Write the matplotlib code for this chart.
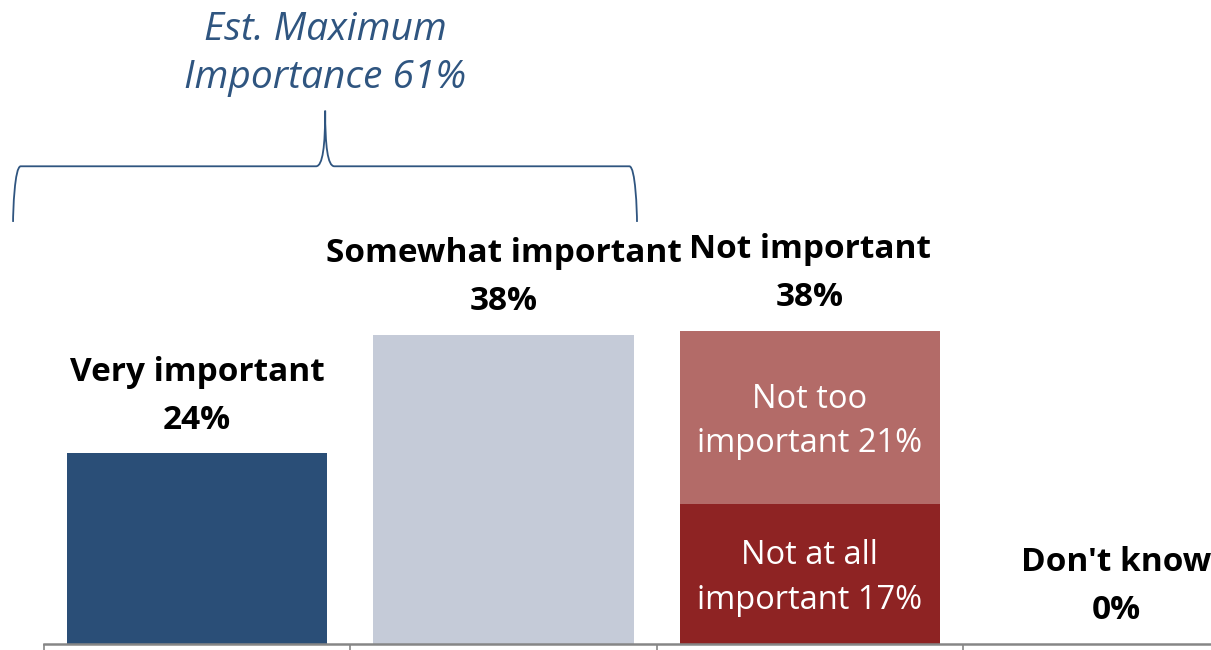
import numpy as np
import matplotlib.pyplot as plt
from matplotlib.path import Path
from matplotlib.patches import PathPatch

# Dữ liệu
categories = ["Very important", "Somewhat important", "Not important", "Don't know"]
totals = [23.3, 37.8, 38.3, 0.0]
total_labels = ["24%", "38%", "38%", "0%"]
bar_colors = ["#2A4E77", "#C5CBD8", None, "#FFFFFF"]

not_at_all = 17.1
not_too = 21.2
not_at_all_label = "Not at all\nimportant 17%"
not_too_label = "Not too\nimportant 21%"
est_label = "Est. Maximum\nImportance 61%"

FONT = "Open Sans"
plt.rcParams["font.family"] = [FONT, "DejaVu Sans"]

fig = plt.figure(figsize=(12.11, 6.5), dpi=100)
W, H = 1211, 650
ax = fig.add_axes([44 / W, 6 / H, (W - 44) / W, 644 / H])

x = np.arange(len(categories))
width = 0.85

# Cột đơn
for i in [0, 1, 3]:
    ax.bar(x[i], totals[i], width=width, color=bar_colors[i], zorder=2)

# Cột xếp chồng "Not important"
ax.bar(x[2], not_at_all, width=width, color="#8E2323", zorder=2)
ax.bar(x[2], not_too, bottom=not_at_all, width=width, color="#B36B68", zorder=2)

for yc, lab in [(not_at_all / 2, not_at_all_label),
                (not_at_all + not_too / 2, not_too_label)]:
    ax.annotate(lab, (x[2], yc), xytext=(0, -3), textcoords="offset points",
                ha="center", va="center", color="white", fontsize=23.5,
                linespacing=1.46)

# Nhãn phía trên cột
for i in range(len(categories)):
    ax.annotate(categories[i] + "\n" + total_labels[i], (x[i], totals[i]),
                xytext=(0, 12), textcoords="offset points", ha="center",
                va="bottom", fontsize=24, fontweight="bold", linespacing=1.6)

ax.set_xlim(-0.5, -0.5 + (W - 44) / 306.3)
ax.set_ylim(0, 644 / 8.18)

# Trục
for s in ["top", "right", "left"]:
    ax.spines[s].set_visible(False)
ax.spines["bottom"].set_color("#868686")
ax.spines["bottom"].set_linewidth(1.8)
ax.set_yticks([])
ax.set_xticks(x[:-1] + 0.5, minor=False)
ax.set_xticks([-0.5], minor=True)
ax.tick_params(axis="x", which="both", direction="out", length=5, width=1.2,
               color="#868686", labelbottom=False)

# Dấu ngoặc nhọn
bc = "#2F5580"
xl, xr, xm = -0.601, 1.436, 0.418
yb, yh, yt = 51.6, 58.4, 65.2
verts = [
    (xl, yb), (xl, yh - 5.5), (xl + 0.005, yh), (xl + 0.025, yh),
    (xm - 0.03, yh),
    (xm - 0.008, yh), (xm, yh + 2.5), (xm, yt),
    (xm, yh + 2.5), (xm + 0.008, yh), (xm + 0.03, yh),
    (xr - 0.025, yh),
    (xr - 0.005, yh), (xr, yh - 5.5), (xr, yb),
]
codes = [Path.MOVETO, Path.CURVE4, Path.CURVE4, Path.CURVE4,
         Path.LINETO,
         Path.CURVE4, Path.CURVE4, Path.CURVE4,
         Path.CURVE4, Path.CURVE4, Path.CURVE4,
         Path.LINETO,
         Path.CURVE4, Path.CURVE4, Path.CURVE4]
ax.add_patch(PathPatch(Path(verts, codes), fill=False, edgecolor=bc,
                       linewidth=1.3, clip_on=False, zorder=3))

ax.text(xm, 72.1, est_label, ha="center", va="center", color=bc,
        fontsize=28, fontstyle="italic", linespacing=1.35)

fig.savefig("out.png", dpi=100)
